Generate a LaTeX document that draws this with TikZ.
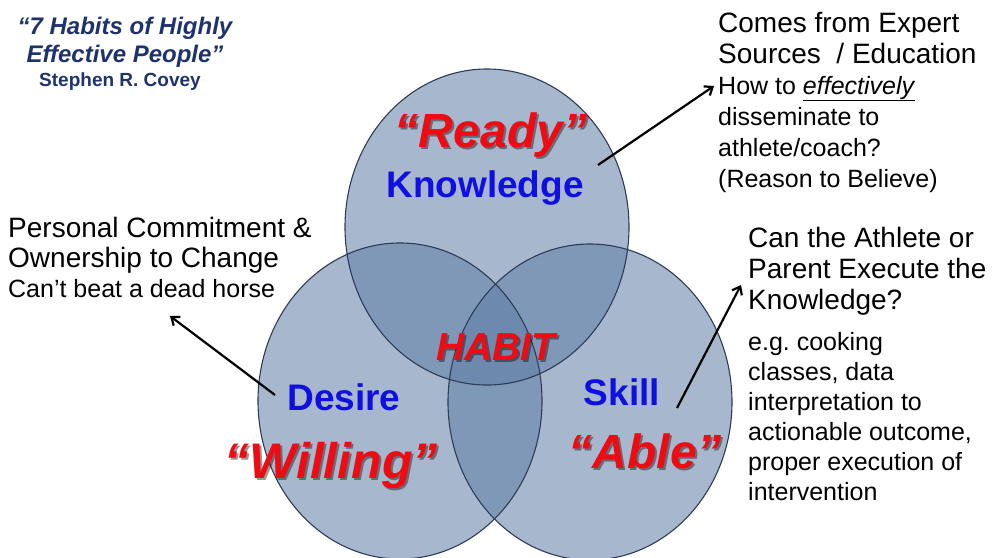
\documentclass[tikz,border=0pt]{standalone}
\usepackage{fontspec}
\setmainfont{Liberation Sans}
\usetikzlibrary{positioning, arrows.meta}
\frenchspacing
\definecolor{circlefill}{RGB}{95,125,165}
\definecolor{circleline}{RGB}{45,60,85}
\definecolor{titlenavy}{RGB}{30,50,110}
\definecolor{wordred}{RGB}{238,12,18}
\definecolor{wordblue}{RGB}{15,15,225}
\tikzset{
    bubble/.style = {fill=circlefill, fill opacity=0.55},
    rim/.style = {draw=circleline, line width=1.1pt},
    keyword/.style = {anchor=base, inner sep=0pt, text=wordblue,
        font=\fontsize{37}{40}\selectfont\bfseries},
    quoteword/.style = {anchor=base, inner sep=0pt, text=wordred,
        font=\fontsize{48}{52}\selectfont\bfseries\itshape},
    drop/.style = {text=black, opacity=0.4, xshift=2pt, yshift=-2pt},
    % multi-line notes sit on the baseline of their last line
    note/.style = {align=left, anchor=base west, inner sep=0pt,
        font=\fontsize{25}{30}\selectfont},
    bignote/.style = {note, font=\fontsize{28}{31}\selectfont},
    line/.style = {-{Straight Barb[length=7pt,width=11pt]}, line width=2.2pt}
}

\begin{document}
\begin{tikzpicture}[x=1pt, y=-1pt]

    \useasboundingbox (0,0) rectangle (993,557);

    % Circles, filled first so every rim stays visible
    \path[bubble] (487,227) ellipse [x radius=142pt, y radius=158pt];
    \path[bubble] (400,401) ellipse [x radius=142pt, y radius=158pt];
    \path[bubble] (590,402) ellipse [x radius=142pt, y radius=158pt];
    \path[rim] (487,227) ellipse [x radius=142pt, y radius=158pt];
    \path[rim] (400,401) ellipse [x radius=142pt, y radius=158pt];
    \path[rim] (590,402) ellipse [x radius=142pt, y radius=158pt];

    % Title
    \node[align=center, anchor=base, inner sep=0pt, text=titlenavy,
        font=\fontsize{24}{28}\selectfont\bfseries\itshape] (title) at (125,62)
        {“7 Habits of Highly\\Effective People”};
    \node[anchor=base, inner sep=0pt, text=titlenavy,
        font=\fontsize{19}{22}\selectfont\bfseries] (author) at (120,86)
        {Stephen R. Covey};

    % Top circle
    \node[quoteword, drop] at (491,147) {“Ready”};
    \node[quoteword] (ready) at (491,147) {“Ready”};
    \node[keyword] (knowledge) at (485,197) {Knowledge};

    % Centre
    \node[quoteword, drop, font=\fontsize{39}{42}\selectfont\bfseries\itshape] at (496,360) {HABIT};
    \node[quoteword, font=\fontsize{39}{42}\selectfont\bfseries\itshape] (habit) at (496,360) {HABIT};

    % Left circle
    \node[keyword] (desire) at (344,410) {Desire};
    \node[quoteword, drop, font=\fontsize{50}{54}\selectfont\bfseries\itshape] at (331,478) {“Willing”};
    \node[quoteword, font=\fontsize{50}{54}\selectfont\bfseries\itshape] (willing) at (331,478) {“Willing”};

    % Right circle
    \node[keyword] (skill) at (622,405) {Skill};
    \node[quoteword, drop] at (645,468) {“Able”};
    \node[quoteword] (able) at (645,468) {“Able”};

    % Notes
    \node[bignote] (expert) at (718,63) {Comes from Expert\\Sources~ / Education};
    \node[note, font=\fontsize{25}{31}\selectfont] (believe) at (718,187)
        {How to \underline{\textit{effectively}}\\disseminate to\\athlete/coach?\\(Reason to Believe)};
    \node[bignote, font=\fontsize{28}{30}\selectfont] (commit) at (8,267) {Personal Commitment \&\\Ownership to Change};
    \node[note] (horse) at (8,297) {Can’t beat a dead horse};
    \node[bignote] (execute) at (748,309) {Can the Athlete or\\Parent Execute the\\Knowledge?};
    \node[note] (cooking) at (748,500) {e.g. cooking\\classes, data\\interpretation to\\actionable outcome,\\proper execution of\\intervention};

    % Arrows
    \coordinate (readytail) at (598,165);
    \coordinate (readytip) at (714,86);
    \coordinate (desiretail) at (275,395);
    \coordinate (desiretip) at (170,316);
    \coordinate (skilltail) at (677,408);
    \coordinate (skilltip) at (741,285);
    \draw[line] (readytail) -- (readytip);
    \draw[line] (desiretail) -- (desiretip);
    \draw[line] (skilltail) -- (skilltip);

\end{tikzpicture}
\end{document}
